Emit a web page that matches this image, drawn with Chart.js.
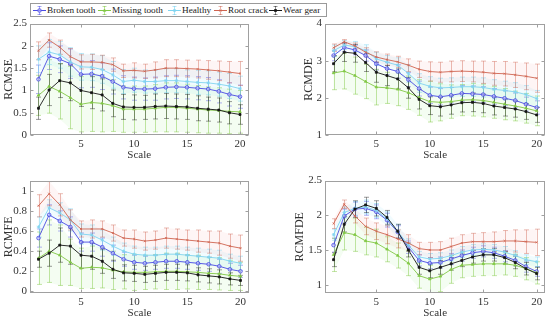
<!DOCTYPE html>
<html>
<head>
<meta charset="utf-8">
<script src="https://cdn.jsdelivr.net/npm/chart.js@4.4.1/dist/chart.umd.min.js"></script>
<style>
  body { margin: 0; background: #fff; width: 550px; height: 322px; position: relative; overflow: hidden;
         font-family: 'Liberation Serif', 'Times New Roman', serif; }
  canvas { position: absolute; }
  #legend { position: absolute; left: 29.5px; top: 2.5px; width: 295px; height: 12px;
            border: 1px solid #9a9a9a; background: #fff; z-index: 2; }
  .li { position: absolute; top: 0; height: 12px; font-size: 9.2px; line-height: 12px; color: #222; white-space: nowrap; }
  .li canvas { position: absolute; left: 0; top: 0; }
  .li span { position: absolute; left: 14px; top: 0; }
</style>
</head>
<body>
<div id="legend"></div>
<canvas id="cMSE" width="265" height="150" style="left:0;top:14px"></canvas>
<canvas id="cMDE" width="250" height="150" style="left:300px;top:14px"></canvas>
<canvas id="cMFE" width="265" height="151" style="left:0;top:171px"></canvas>
<canvas id="cMFDE" width="259" height="151" style="left:291px;top:171px"></canvas>
<script>
// ---- data ----
const scaleIdx = [1,2,3,4,5,6,7,8,9,10,11,12,13,14,15,16,17,18,19,20];
const seriesNames = ['Broken tooth', 'Missing tooth', 'Healthy', 'Root crack', 'Wear gear'];
const xTicks = [5, 10, 15, 20];

// RCMSE
const mseBroken   = [1.25,1.77,1.70,1.60,1.36,1.37,1.32,1.20,1.07,1.04,1.03,1.04,1.07,1.08,1.07,1.05,1.03,0.98,0.91,0.86];
const mseBrokenSd = [0.32,0.30,0.30,0.33,0.30,0.30,0.30,0.28,0.26,0.26,0.25,0.26,0.26,0.26,0.26,0.26,0.26,0.26,0.26,0.26];
const mseMissing   = [0.89,1.09,0.98,0.84,0.69,0.73,0.71,0.66,0.58,0.58,0.58,0.60,0.62,0.62,0.60,0.58,0.56,0.55,0.53,0.52];
const mseMissingSd = [0.45,0.60,0.62,0.70,0.62,0.65,0.64,0.58,0.52,0.52,0.52,0.53,0.55,0.55,0.54,0.53,0.52,0.51,0.50,0.48];
const mseHealthy   = [1.70,1.86,1.80,1.64,1.53,1.52,1.47,1.35,1.20,1.23,1.20,1.20,1.22,1.22,1.20,1.18,1.17,1.14,1.10,1.04];
const mseHealthySd = [0.30,0.28,0.30,0.32,0.30,0.30,0.31,0.30,0.27,0.27,0.26,0.26,0.27,0.27,0.26,0.27,0.27,0.27,0.28,0.28];
const mseRoot   = [1.89,2.13,1.97,1.76,1.64,1.64,1.63,1.58,1.44,1.45,1.43,1.46,1.50,1.50,1.49,1.48,1.46,1.44,1.41,1.38];
const mseRootSd = [0.20,0.16,0.16,0.18,0.16,0.17,0.16,0.15,0.15,0.17,0.16,0.18,0.19,0.19,0.19,0.20,0.21,0.22,0.24,0.27];
const mseWear   = [0.60,1.01,1.22,1.17,1.00,0.95,0.90,0.71,0.63,0.62,0.62,0.64,0.65,0.64,0.63,0.60,0.58,0.56,0.50,0.46];
const mseWearSd = [0.25,0.35,0.38,0.40,0.36,0.36,0.36,0.30,0.28,0.28,0.27,0.28,0.28,0.28,0.28,0.28,0.27,0.27,0.25,0.22];
const mseTicks = [0, 0.5, 1, 1.5, 2, 2.5];

// RCMDE
const mdeBroken   = [3.14,3.36,3.29,3.14,2.92,2.79,2.71,2.49,2.25,2.07,2.03,2.07,2.12,2.11,2.09,2.04,1.99,1.93,1.83,1.74];
const mdeBrokenSd = [0.14,0.12,0.13,0.15,0.17,0.17,0.18,0.19,0.20,0.22,0.22,0.21,0.21,0.21,0.21,0.21,0.20,0.20,0.19,0.18];
const mdeMissing   = [2.67,2.72,2.60,2.44,2.29,2.27,2.23,2.14,2.01,1.90,1.88,1.90,1.94,1.95,1.93,1.88,1.83,1.78,1.72,1.65];
const mdeMissingSd = [0.45,0.48,0.50,0.46,0.48,0.42,0.44,0.45,0.48,0.55,0.50,0.45,0.42,0.44,0.44,0.43,0.42,0.40,0.40,0.40];
const mdeHealthy   = [3.27,3.42,3.38,3.27,3.05,2.96,2.88,2.66,2.40,2.31,2.27,2.28,2.30,2.30,2.28,2.23,2.20,2.16,2.09,1.98];
const mdeHealthySd = [0.15,0.12,0.14,0.16,0.18,0.18,0.20,0.24,0.25,0.26,0.26,0.26,0.26,0.26,0.26,0.26,0.25,0.25,0.24,0.22];
const mdeRoot   = [3.35,3.51,3.40,3.23,3.10,3.03,2.97,2.88,2.77,2.71,2.69,2.71,2.72,2.71,2.69,2.66,2.65,2.62,2.58,2.53];
const mdeRootSd = [0.10,0.06,0.08,0.12,0.14,0.15,0.15,0.17,0.22,0.26,0.27,0.28,0.28,0.28,0.30,0.32,0.33,0.34,0.36,0.38];
const mdeWear   = [2.92,3.23,3.20,2.95,2.69,2.60,2.51,2.27,1.96,1.79,1.76,1.81,1.87,1.88,1.85,1.78,1.74,1.70,1.63,1.54];
const mdeWearSd = [0.22,0.25,0.24,0.24,0.27,0.27,0.27,0.28,0.26,0.24,0.25,0.25,0.25,0.25,0.25,0.24,0.23,0.22,0.21,0.20];
const mdeTicks = [1, 2, 3, 4];

// RCMFE
const mfeBroken   = [0.53,0.76,0.70,0.64,0.49,0.49,0.44,0.38,0.32,0.29,0.28,0.29,0.30,0.30,0.29,0.28,0.27,0.25,0.22,0.20];
const mfeBrokenSd = [0.09,0.10,0.10,0.10,0.09,0.09,0.09,0.08,0.07,0.07,0.07,0.07,0.07,0.07,0.07,0.07,0.07,0.07,0.06,0.06];
const mfeMissing   = [0.33,0.40,0.36,0.29,0.23,0.24,0.235,0.21,0.195,0.19,0.19,0.195,0.20,0.20,0.195,0.19,0.18,0.175,0.16,0.15];
const mfeMissingSd = [0.26,0.31,0.30,0.23,0.20,0.21,0.20,0.19,0.17,0.18,0.17,0.17,0.18,0.18,0.17,0.17,0.16,0.16,0.15,0.14];
const mfeHealthy   = [0.64,0.83,0.78,0.71,0.57,0.56,0.51,0.45,0.40,0.37,0.36,0.36,0.37,0.37,0.36,0.35,0.34,0.33,0.30,0.28];
const mfeHealthySd = [0.10,0.08,0.10,0.11,0.10,0.10,0.10,0.09,0.08,0.08,0.08,0.08,0.08,0.08,0.08,0.08,0.08,0.08,0.07,0.07];
const mfeRoot   = [0.85,0.97,0.86,0.71,0.62,0.62,0.62,0.58,0.53,0.52,0.50,0.51,0.53,0.52,0.51,0.50,0.49,0.48,0.45,0.43];
const mfeRootSd = [0.11,0.12,0.11,0.10,0.08,0.09,0.08,0.08,0.08,0.09,0.09,0.09,0.10,0.10,0.10,0.11,0.11,0.12,0.12,0.13];
const mfeWear   = [0.32,0.38,0.46,0.45,0.36,0.35,0.30,0.22,0.185,0.18,0.17,0.18,0.19,0.19,0.185,0.165,0.155,0.145,0.125,0.11];
const mfeWearSd = [0.08,0.13,0.17,0.18,0.13,0.13,0.12,0.09,0.08,0.08,0.08,0.08,0.08,0.08,0.08,0.07,0.07,0.07,0.06,0.05];
const mfeTicks = [0, 0.2, 0.4, 0.6, 0.8, 1];

// RCMFDE
const mfdeBroken   = [1.57,1.99,2.09,2.10,2.05,1.93,1.76,1.54,1.35,1.31,1.32,1.37,1.42,1.46,1.48,1.46,1.41,1.35,1.26,1.19];
const mfdeBrokenSd = [0.10,0.10,0.10,0.10,0.10,0.10,0.09,0.09,0.08,0.08,0.08,0.08,0.08,0.08,0.08,0.08,0.08,0.08,0.08,0.07];
const mfdeMissing   = [1.43,1.75,1.72,1.63,1.60,1.51,1.42,1.31,1.13,1.08,1.12,1.22,1.28,1.29,1.30,1.30,1.30,1.28,1.23,1.17];
const mfdeMissingSd = [0.24,0.25,0.24,0.20,0.20,0.18,0.18,0.18,0.18,0.20,0.22,0.20,0.18,0.17,0.17,0.17,0.16,0.16,0.16,0.16];
const mfdeHealthy   = [1.72,2.04,2.10,2.12,2.07,1.95,1.77,1.57,1.40,1.37,1.38,1.42,1.47,1.50,1.51,1.50,1.47,1.42,1.36,1.33];
const mfdeHealthySd = [0.08,0.08,0.10,0.10,0.10,0.10,0.10,0.09,0.08,0.08,0.08,0.08,0.08,0.08,0.08,0.08,0.08,0.07,0.07,0.07];
const mfdeRoot   = [1.88,2.16,1.99,1.84,1.77,1.72,1.66,1.60,1.52,1.50,1.50,1.55,1.60,1.62,1.62,1.62,1.63,1.63,1.62,1.61];
const mfdeRootSd = [0.07,0.06,0.10,0.12,0.12,0.13,0.13,0.12,0.09,0.11,0.12,0.12,0.12,0.12,0.13,0.14,0.15,0.16,0.17,0.19];
const mfdeWear   = [1.36,1.87,2.09,2.15,2.10,1.97,1.77,1.50,1.25,1.20,1.25,1.30,1.35,1.40,1.43,1.43,1.39,1.32,1.23,1.16];
const mfdeWearSd = [0.10,0.11,0.12,0.11,0.11,0.10,0.10,0.10,0.10,0.10,0.10,0.09,0.09,0.09,0.09,0.09,0.09,0.09,0.09,0.09];
const mfdeTicks = [1, 1.5, 2, 2.5];

// ---- styles ----
const serif = "'Liberation Serif', 'Times New Roman', serif";
const lineColors = ['#4a4ae2', '#82c846', '#80d4f0', '#cf6450', '#151515'];
const barColors  = ['rgba(70,70,230,0.6)', 'rgba(124,198,60,0.65)', 'rgba(120,210,240,0.7)', 'rgba(204,95,75,0.6)', 'rgba(17,17,17,0.6)'];
const bandColors = [null, 'rgba(60,220,40,0.06)', 'rgba(60,200,240,0.07)', 'rgba(240,60,60,0.05)', null];
const markers = [
  { style: 'circle', r: 1.8, fill: 'rgba(190,190,255,0.6)' },
  { style: 'triangle', r: 1.5, fill: '#82c846' },
  { style: 'star', r: 1.7, fill: '#80d4f0' },
  { style: 'crossRot', r: 1.4, fill: '#cf6450' },
  { style: 'rect', r: 1.4, fill: '#151515' }
];

const errorBars = {
  id: 'errorBars',
  beforeDatasetsDraw(chart) {
    const ctx = chart.ctx, a = chart.chartArea;
    const xs = chart.scales.x, ys = chart.scales.y;
    ctx.save();
    ctx.beginPath();
    ctx.rect(a.left, a.top, a.right - a.left, a.bottom - a.top);
    ctx.clip();
    chart.data.datasets.forEach(ds => {
      if (!ds.band) return;
      ctx.beginPath();
      ds.data.forEach((p, i) => {
        const px = xs.getPixelForValue(p.x), py = ys.getPixelForValue(p.y + ds.err[i]);
        i ? ctx.lineTo(px, py) : ctx.moveTo(px, py);
      });
      for (let i = ds.data.length - 1; i >= 0; i--) {
        const p = ds.data[i];
        ctx.lineTo(xs.getPixelForValue(p.x), ys.getPixelForValue(p.y - ds.err[i]));
      }
      ctx.closePath();
      ctx.fillStyle = ds.band;
      ctx.fill();
    });
    chart.data.datasets.forEach(ds => {
      ctx.strokeStyle = ds.barColor;
      ctx.lineWidth = 0.7;
      ds.data.forEach((p, i) => {
        const px = Math.round(xs.getPixelForValue(p.x)) + 0.5;
        const top = ys.getPixelForValue(p.y + ds.err[i]);
        const bot = ys.getPixelForValue(p.y - ds.err[i]);
        ctx.beginPath();
        ctx.moveTo(px, top); ctx.lineTo(px, bot);
        ctx.moveTo(px - 2.5, top); ctx.lineTo(px + 2.5, top);
        ctx.moveTo(px - 2.5, bot); ctx.lineTo(px + 2.5, bot);
        ctx.stroke();
      });
    });
    ctx.restore();
  },
  afterDraw(chart) {
    const ctx = chart.ctx, a = chart.chartArea;
    const xs = chart.scales.x, ys = chart.scales.y;
    ctx.save();
    ctx.strokeStyle = '#a0a0a0';
    ctx.lineWidth = 1;
    const l = Math.round(a.left) + 0.5, r = Math.round(a.right) - 0.5;
    const t = Math.round(a.top) + 0.5, b = Math.round(a.bottom) - 0.5;
    ctx.strokeRect(l, t, r - l, b - t);
    ctx.beginPath();
    xTicks.forEach(v => {
      const px = Math.round(xs.getPixelForValue(v)) + 0.5;
      ctx.moveTo(px, b); ctx.lineTo(px, b - 3);
      ctx.moveTo(px, t); ctx.lineTo(px, t + 3);
    });
    ys.ticks.forEach(tk => {
      const py = Math.round(ys.getPixelForValue(tk.value)) + 0.5;
      ctx.moveTo(l, py); ctx.lineTo(l + 3, py);
      ctx.moveTo(r, py); ctx.lineTo(r - 3, py);
    });
    ctx.stroke();
    ctx.restore();
  }
};

function makeChart(id, means, sds, yTicks, yMin, yMax, yTitle, box) {
  const datasets = means.map((m, i) => ({
    label: seriesNames[i],
    data: scaleIdx.map((x, j) => ({ x: x, y: m[j] })),
    err: sds[i],
    band: bandColors[i],
    barColor: barColors[i],
    borderColor: lineColors[i],
    borderWidth: 0.9,
    pointStyle: markers[i].style,
    pointRadius: markers[i].r,
    pointBorderWidth: 0.8,
    pointBorderColor: lineColors[i],
    pointBackgroundColor: markers[i].fill,
    tension: 0,
    order: means.length - 1 - i
  }));
  return new Chart(document.getElementById(id), {
    type: 'line',
    data: { datasets: datasets },
    plugins: [errorBars],
    options: {
      responsive: false,
      animation: false,
      devicePixelRatio: 1,
      layout: { padding: { top: box.top, right: box.right, left: 0, bottom: 0 } },
      plugins: { legend: { display: false }, tooltip: { enabled: false } },
      scales: {
        x: {
          type: 'linear', min: 0.2, max: 20.8,
          afterBuildTicks: s => { s.ticks = xTicks.map(v => ({ value: v })); },
          afterFit: s => { s.height = box.xh; },
          grid: { display: false, drawTicks: false },
          border: { display: false },
          ticks: { padding: 3, color: '#333', font: { family: serif, size: 11 } },
          title: { display: true, text: 'Scale', color: '#333', padding: { top: 0, bottom: 2 },
                   font: { family: serif, size: 11 } }
        },
        y: {
          min: yMin, max: yMax,
          afterBuildTicks: s => { s.ticks = yTicks.map(v => ({ value: v })); },
          afterFit: s => { s.width = box.yw; },
          grid: { display: false, drawTicks: false },
          border: { display: false },
          ticks: { padding: 3, color: '#333', font: { family: serif, size: 11 }, callback: v => String(v) },
          title: { display: true, text: yTitle, color: '#333', padding: { top: 2, bottom: 0 },
                   font: { family: serif, size: 12 } }
        }
      }
    }
  });
}

makeChart('cMSE',
  [mseBroken, mseMissing, mseHealthy, mseRoot, mseWear],
  [mseBrokenSd, mseMissingSd, mseHealthySd, mseRootSd, mseWearSd],
  mseTicks, 0, 2.5, 'RCMSE', { top: 7, right: 16.5, yw: 30, xh: 29 });
makeChart('cMDE',
  [mdeBroken, mdeMissing, mdeHealthy, mdeRoot, mdeWear],
  [mdeBrokenSd, mdeMissingSd, mdeHealthySd, mdeRootSd, mdeWearSd],
  mdeTicks, 1, 4, 'RCMDE', { top: 7, right: 4, yw: 25, xh: 29 });
makeChart('cMFE',
  [mfeBroken, mfeMissing, mfeHealthy, mfeRoot, mfeWear],
  [mfeBrokenSd, mfeMissingSd, mfeHealthySd, mfeRootSd, mfeWearSd],
  mfeTicks, -0.015, 1.1, 'RCMFE', { top: 7, right: 16, yw: 30, xh: 29 });
makeChart('cMFDE',
  [mfdeBroken, mfdeMissing, mfdeHealthy, mfdeRoot, mfdeWear],
  [mfdeBrokenSd, mfdeMissingSd, mfdeHealthySd, mfdeRootSd, mfdeWearSd],
  mfdeTicks, 0.88, 2.5, 'RCMFDE', { top: 8, right: 4, yw: 34, xh: 29 });

// legend (HTML text, icons drawn with the Chart.js point helper)
const legendLefts = [2.5, 67.5, 137.5, 183.5, 238.5];
const legend = document.getElementById('legend');
seriesNames.forEach((name, i) => {
  const item = document.createElement('div');
  item.className = 'li';
  item.style.left = legendLefts[i] + 'px';
  const icon = document.createElement('canvas');
  icon.width = 13; icon.height = 12;
  const span = document.createElement('span');
  span.textContent = name;
  item.appendChild(icon);
  item.appendChild(span);
  legend.appendChild(item);
  const c = icon.getContext('2d');
  c.strokeStyle = lineColors[i];
  c.lineWidth = 1;
  c.beginPath(); c.moveTo(0, 6.5); c.lineTo(13, 6.5); c.stroke();
  c.strokeStyle = barColors[i];
  c.lineWidth = 0.8;
  c.beginPath();
  c.moveTo(6.5, 2); c.lineTo(6.5, 11);
  c.moveTo(4.5, 2.5); c.lineTo(8.5, 2.5);
  c.moveTo(4.5, 10.5); c.lineTo(8.5, 10.5);
  c.stroke();
  c.fillStyle = markers[i].fill;
  c.strokeStyle = lineColors[i];
  c.lineWidth = 0.8;
  Chart.helpers.drawPoint(c, { pointStyle: markers[i].style, radius: markers[i].r, borderWidth: 0.8 }, 6.5, 6.5);
});
</script>
</body>
</html>
